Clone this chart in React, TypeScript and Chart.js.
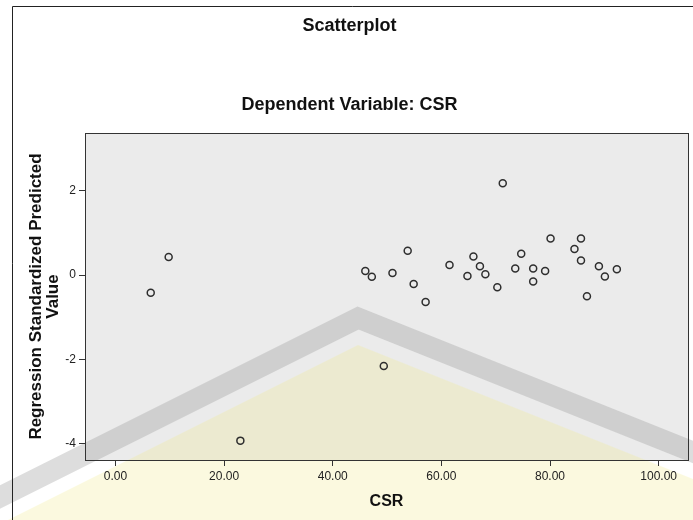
import React, { useEffect, useRef } from "react";
import { Chart, registerables } from "chart.js";

Chart.register(...registerables);

const chartTitle = "Scatterplot";
const chartSubtitle = "Dependent Variable: CSR";
const xAxisTitle = "CSR";
const yAxisTitle = ["Regression Standardized Predicted", "Value"];

const csrValues = [
  6.5, 9.8, 23.0, 46.0, 47.2, 49.4, 51.0, 53.8, 54.9, 57.1, 61.5, 64.8, 65.9, 67.1, 68.1,
  70.3, 71.3, 73.6, 74.7, 76.9, 76.9, 79.1, 80.1, 84.5, 85.7, 85.7, 86.8, 89.0, 90.1, 92.3,
];
const predictedValues = [
  -0.42, 0.43, -3.93, 0.1, -0.04, -2.16, 0.05, 0.58, -0.21, -0.64, 0.24, -0.02, 0.44, 0.21, 0.02,
  -0.29, 2.18, 0.16, 0.51, 0.16, -0.15, 0.1, 0.87, 0.62, 0.87, 0.35, -0.5, 0.21, -0.03, 0.14,
];
const xTickValues = [0, 20, 40, 60, 80, 100];
const yTickValues = [-4, -2, 0, 2];

const FONT = "'Liberation Sans', Arial, Helvetica, sans-serif";

export default function App() {
  const ref = useRef<HTMLCanvasElement>(null);

  useEffect(() => {
    const canvas = ref.current;
    if (!canvas) return;
    const points = csrValues.map((x, i) => ({ x, y: predictedValues[i] }));

    const framePlugin = {
      id: "frameAndBackground",
      beforeDraw(chart: any) {
        const { ctx, chartArea: a, width, height } = chart;
        ctx.save();
        ctx.fillStyle = "#ffffff";
        ctx.fillRect(0, 0, width, height);
        // plot background
        ctx.fillStyle = "#ebebeb";
        ctx.fillRect(a.left, a.top, a.right - a.left, a.bottom - a.top);
        // watermark: pale yellow area
        const ax = 358;
        const sl = 0.5;
        const sr = 0.4;
        ctx.fillStyle = "rgba(240,230,130,0.26)";
        ctx.beginPath();
        ctx.moveTo(ax, 345);
        ctx.lineTo(800, 345 + (800 - ax) * sr);
        ctx.lineTo(800, 700);
        ctx.lineTo(-100, 700);
        ctx.lineTo(-100, 345 + (ax + 100) * sl);
        ctx.closePath();
        ctx.fill();
        // watermark: gray chevron band
        ctx.strokeStyle = "rgba(150,150,150,0.32)";
        ctx.lineWidth = 21;
        ctx.lineJoin = "miter";
        ctx.beginPath();
        ctx.moveTo(-60, 318 + (ax + 60) * sl);
        ctx.lineTo(ax, 318);
        ctx.lineTo(780, 318 + (780 - ax) * sr);
        ctx.stroke();
        // outer frame
        ctx.strokeStyle = "#222";
        ctx.lineWidth = 1;
        ctx.beginPath();
        ctx.moveTo(12.5, height);
        ctx.lineTo(12.5, 6.5);
        ctx.lineTo(width, 6.5);
        ctx.stroke();
        ctx.restore();
      },
      beforeDatasetsDraw(chart: any) {
        const { ctx, chartArea: a } = chart;
        ctx.save();
        ctx.strokeStyle = "#333";
        ctx.lineWidth = 1;
        ctx.strokeRect(Math.round(a.left) + 0.5, Math.round(a.top) + 0.5, Math.round(a.right - a.left), Math.round(a.bottom - a.top));
        ctx.restore();
      },
    };

    const chart = new Chart(canvas, {
      type: "scatter",
      data: {
        datasets: [
          {
            data: points,
            pointStyle: "circle",
            pointRadius: 3.5,
            pointHoverRadius: 3.5,
            pointBorderWidth: 1.5,
            borderColor: "#2e2e2e",
            pointBorderColor: "#2e2e2e",
            pointBackgroundColor: "rgba(0,0,0,0)",
            backgroundColor: "rgba(0,0,0,0)",
            showLine: false,
          },
        ],
      },
      options: {
        responsive: false,
        animation: false,
        devicePixelRatio: 1,
        layout: { padding: { left: 10, right: 4, top: 0, bottom: 0 } },
        plugins: {
          legend: { display: false },
          tooltip: { enabled: false },
          title: {
            display: true,
            text: chartTitle,
            color: "#111",
            font: { family: FONT, size: 18, weight: "bold", lineHeight: 1.2 },
            padding: { top: 15.2, bottom: 0 },
          },
          subtitle: {
            display: true,
            text: chartSubtitle,
            color: "#111",
            font: { family: FONT, size: 18, weight: "bold", lineHeight: 1.2 },
            padding: { top: 57.4, bottom: 17.2 },
          },
        },
        scales: {
          x: {
            type: "linear",
            min: -5.6,
            max: 105.4,
            afterBuildTicks: (s: any) => {
              s.ticks = xTickValues.map((v) => ({ value: v }));
            },
            afterFit: (s: any) => {
              s.height = 60;
            },
            ticks: {
              callback: (v: any) => Number(v).toFixed(2),
              font: { family: FONT, size: 12 },
              color: "#222",
              padding: 3,
              maxRotation: 0,
              autoSkip: false,
            },
            grid: { display: true, drawOnChartArea: false, drawTicks: true, tickLength: 6, color: "#333" },
            border: { display: false },
            title: {
              display: true,
              text: xAxisTitle,
              color: "#111",
              font: { family: FONT, size: 16, weight: "bold", lineHeight: 1.2 },
              padding: { top: 0, bottom: 8.4 },
            },
          },
          y: {
            type: "linear",
            min: -4.39,
            max: 3.375,
            afterBuildTicks: (s: any) => {
              s.ticks = yTickValues.map((v) => ({ value: v }));
            },
            afterFit: (s: any) => {
              s.width = 75;
            },
            ticks: {
              callback: (v: any) => String(v),
              font: { family: FONT, size: 12 },
              color: "#222",
              padding: 3,
              autoSkip: false,
            },
            grid: { display: true, drawOnChartArea: false, drawTicks: true, tickLength: 6, color: "#333" },
            border: { display: false },
            title: {
              display: true,
              text: yAxisTitle,
              color: "#111",
              font: { family: FONT, size: 17, weight: "bold", lineHeight: 1.04 },
              padding: { top: 17, bottom: 0 },
            },
          },
        },
      },
      plugins: [framePlugin],
    } as any);

    return () => chart.destroy();
  }, []);

  return (
    <div style={{ position: "absolute", left: 0, top: 0, width: 693, height: 520, background: "#fff" }}>
      <canvas ref={ref} width={693} height={520} style={{ display: "block", width: 693, height: 520 }} />
    </div>
  );
}
